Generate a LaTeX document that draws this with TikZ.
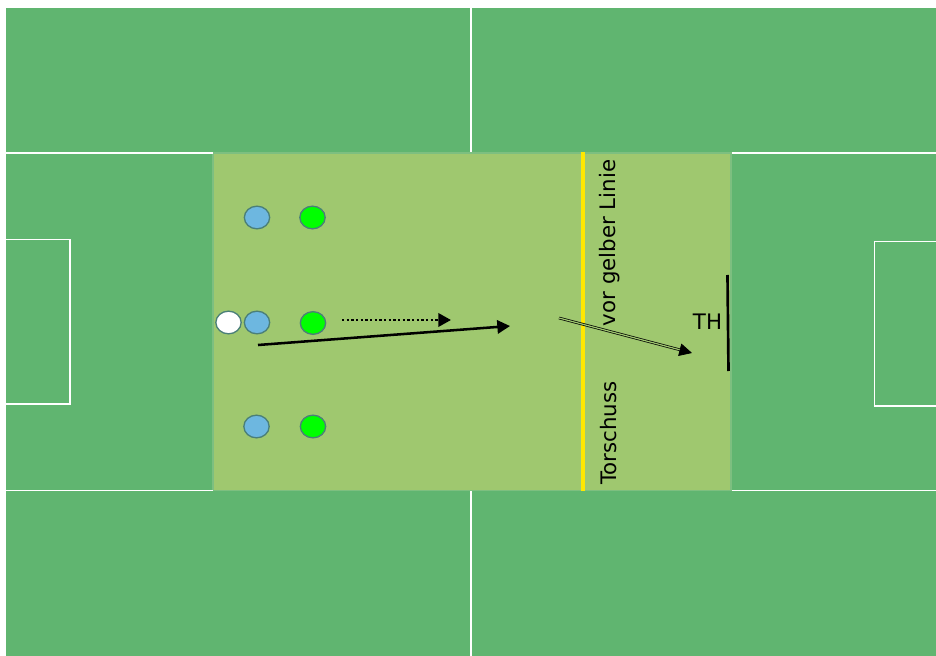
\documentclass[tikz,border=0pt]{standalone}
\usepackage{fontspec}
\setmainfont{DejaVu Sans}
\usepackage{tikz}
\usetikzlibrary{arrows.meta,positioning,shapes.geometric}
\definecolor{rasen}{HTML}{60B570}
\definecolor{feld}{HTML}{9FC86F}
\definecolor{feldrand}{HTML}{7DBF80}
\definecolor{spielerblau}{HTML}{6DB7E0}
\definecolor{spielergruen}{HTML}{00FF00}
\definecolor{rand}{HTML}{4A7F78}
\definecolor{gelblinie}{HTML}{FFE800}

\begin{document}
\begin{tikzpicture}[
    x=0.75pt,
    y=-0.75pt,
    font=\fontsize{16}{19}\selectfont,
    player/.style={
        ellipse,
        draw=rand,
        line width=1pt,
        minimum width=19pt,
        minimum height=17pt,
        inner sep=0pt
    },
    blueplayer/.style={player, fill=spielerblau},
    greenplayer/.style={player, fill=spielergruen},
    whiteplayer/.style={player, fill=white},
    fieldline/.style={draw=white, line width=1pt},
    midline/.style={draw=white, line width=1.7pt},
    arrow/.style={-{Triangle[length=9.5pt,width=10pt]}, line width=1.9pt, draw=black},
    passarrow/.style={arrow, dash pattern=on 1.8pt off 1.7pt},
    shotarrow/.style={-{Triangle[length=9.5pt,width=9.5pt]}, double=feld, double distance=0.9pt, line width=0.55pt, draw=black}
]
\useasboundingbox (0,0) rectangle (936,656);
\fill[rasen] (6,8) rectangle (936,656);
\draw[fill=feld, draw=feldrand, line width=0.8pt] (213,153) rectangle (731,490.5);
% pitch markings
\coordinate (midtop) at (471,8);
\coordinate (midup) at (471,152);
\coordinate (midlow) at (471,491);
\coordinate (midbottom) at (471,656);
\draw[midline] (midtop) -- (midup);
\draw[midline] (midlow) -- (midbottom);
\coordinate (lefttop) at (6,153);
\coordinate (boxtopleft) at (212.5,153);
\coordinate (leftbottom) at (6,490.5);
\coordinate (boxbottomleft) at (212.5,490.5);
\coordinate (righttop) at (936,153);
\coordinate (boxtopright) at (731.5,153);
\coordinate (rightbottom) at (936,490.5);
\coordinate (boxbottomright) at (731.5,490.5);
\draw[fieldline] (lefttop) -- (boxtopleft);
\draw[fieldline] (leftbottom) -- (boxbottomleft);
\draw[fieldline] (righttop) -- (boxtopright);
\draw[fieldline] (rightbottom) -- (boxbottomright);
\draw[fieldline] (6,239.5) -| (70,404) -- (6,404);
\draw[fieldline] (936,241.5) -| (874.5,406) -- (936,406);
% yellow line and goal
\coordinate (yellowtop) at (583,152);
\coordinate (yellowbottom) at (583,491);
\draw[draw=gelblinie, line width=2.3pt] (yellowtop) -- (yellowbottom);
\coordinate (goaltop) at (727.5,275);
\coordinate (goalbottom) at (728.5,371);
\draw[line width=2pt] (goaltop) -- (goalbottom);
% players
\node[blueplayer] (blueone) at (257,217.5) {};
\node[blueplayer] (bluetwo) at (257,322.5) {};
\node[blueplayer] (bluethree) at (256.5,426.5) {};
\node[greenplayer] (greenone) at (312.5,217.5) {};
\node[greenplayer] (greentwo) at (313,323) {};
\node[greenplayer] (greenthree) at (313,426.5) {};
\node[whiteplayer] (ball) at (228.5,322.5) {};
% labels
\node[rotate=90, inner sep=0pt] (linie) at (609.5,243) {vor gelber Linie};
\node[rotate=90, inner sep=0pt] (schuss) at (608.5,433) {Torschuss};
\node[inner sep=0pt] (keeper) at (707.5,322) {TH};
% runs
\coordinate (runstart) at (258,345);
\coordinate (runend) at (510,326);
\coordinate (passstart) at (342,320);
\coordinate (passend) at (451,320);
\coordinate (shotstart) at (559,318);
\coordinate (shotend) at (692,353);
\draw[arrow] (runstart) -- (runend);
\draw[passarrow] (passstart) -- (passend);
\draw[shotarrow] (shotstart) -- (shotend);
\end{tikzpicture}
\end{document}
